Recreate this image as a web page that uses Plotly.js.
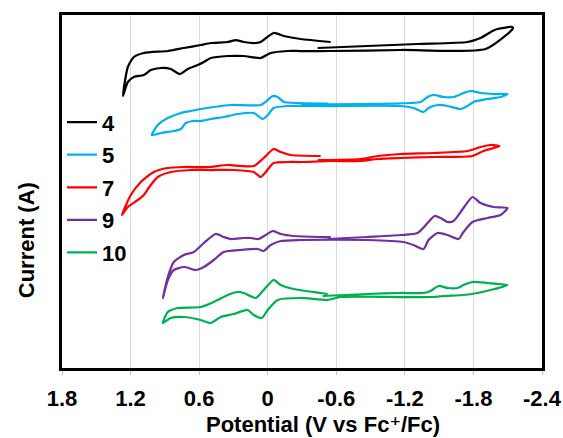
<!DOCTYPE html>
<html>
<head>
<meta charset="utf-8">
<script src="https://cdn.plot.ly/plotly-3.0.1.min.js"></script>
<style>html,body{margin:0;padding:0;background:#fff;}#chart{width:563px;height:438px;}</style>
</head>
<body>
<div id="chart"></div>
<script>
// Potential (V vs Fc+/Fc) and current (arbitrary units, offset per compound)
const names = ["4", "5", "7", "9", "10"];
const colors = ["#000000", "#00b0f0", "#ff0000", "#7030a0", "#00b050"];

const pot4 = [-0.437,-0.874,-1.311,-1.748,-1.862,-1.967,-2.010,-2.142,-2.142,-1.906,-1.163,-0.551,-0.288,-0.175,-0.026,0.061,0.210,0.350,0.498,0.559,0.612,0.699,0.769,0.848,0.935,1.023,1.084,1.171,1.224,1.267,1.224,1.171,1.084,0.874,0.734,0.586,0.498,0.350,0.280,0.210,0.105,0.061,-0.052,-0.140,-0.288,-0.551];
const cur4 = [32.1,32.3,32.5,32.7,33.1,33.8,34.0,34.2,34.0,32.0,31.9,31.8,31.8,31.8,31.6,31.1,31.3,31.3,31.1,30.7,30.4,30.0,29.5,30.0,30.1,29.9,29.4,29.2,28.7,27.3,30.2,31.2,31.6,31.8,32.1,32.4,32.6,32.7,32.9,32.7,32.6,32.7,33.6,33.3,33.0,32.7];

const pot5 = [-0.288,-0.813,-1.250,-1.337,-1.399,-1.451,-1.538,-1.626,-1.713,-1.774,-1.862,-1.976,-2.098,-2.037,-1.923,-1.801,-1.748,-1.687,-1.573,-1.486,-1.407,-1.364,-1.276,-1.163,-0.551,-0.175,-0.052,0.000,0.044,0.122,0.262,0.385,0.498,0.586,0.656,0.717,0.760,0.822,0.935,1.014,0.962,0.874,0.760,0.673,0.586,0.472,0.323,0.061,0.000,-0.044,-0.087,-0.140,-0.262,-0.524];
const cur5 = [26.45,26.5,26.6,26.7,27.2,27.4,27.2,27.2,27.6,27.8,27.6,27.5,27.5,27.2,27.0,26.7,26.3,26.0,26.3,26.4,26.1,25.7,26.1,26.3,26.3,26.3,26.1,25.4,25.0,25.6,25.5,25.2,25.0,24.8,24.8,24.6,24.0,23.8,23.6,23.4,24.4,25.1,25.6,25.8,26.0,26.2,26.4,26.4,26.9,27.3,27.2,26.7,26.6,26.55];

const pot7 = [-0.437,-0.813,-0.962,-1.163,-1.451,-1.748,-1.862,-1.949,-2.028,-1.888,-1.792,-1.451,-1.163,-0.962,-0.813,-0.551,-0.288,-0.175,-0.052,0.017,0.061,0.122,0.297,0.498,0.673,0.848,0.962,1.023,1.084,1.136,1.224,1.276,1.198,1.110,0.997,0.874,0.734,0.524,0.350,0.236,0.122,0.035,-0.052,-0.114,-0.201,-0.463];
const cur7 = [20.9,21.0,21.3,21.5,21.6,21.8,22.2,22.4,22.3,21.8,21.3,21.2,21.1,21.0,20.8,20.8,20.7,20.7,20.6,19.7,19.2,19.7,19.9,19.9,19.9,19.7,19.2,18.4,17.4,16.9,16.2,15.4,17.4,18.7,19.7,20.1,20.2,20.2,20.4,20.3,20.3,21.1,22.0,21.7,21.4,21.3];

const pot9 = [-0.524,-0.874,-1.163,-1.311,-1.399,-1.460,-1.512,-1.573,-1.626,-1.713,-1.792,-1.862,-1.976,-2.098,-2.037,-1.923,-1.792,-1.713,-1.670,-1.573,-1.486,-1.407,-1.364,-1.276,-1.189,-0.874,-0.288,-0.114,-0.026,0.035,0.087,0.236,0.385,0.472,0.559,0.629,0.734,0.822,0.874,0.918,0.874,0.822,0.734,0.647,0.559,0.455,0.385,0.323,0.210,0.149,0.079,0.017,-0.044,-0.114,-0.227,-0.463,-0.551];
const cur9 = [13.0,13.2,13.4,13.6,14.6,15.3,15.1,14.7,14.8,16.1,17.2,16.6,16.2,16.1,15.4,15.1,14.7,13.7,13.0,13.4,13.6,12.9,12.0,12.4,12.7,12.9,12.9,12.8,12.4,11.8,12.0,11.9,11.7,10.9,10.2,9.9,10.2,9.9,8.9,7.1,9.2,10.7,11.4,11.7,12.6,13.5,13.2,13.0,13.1,13.1,13.0,13.4,13.8,13.5,13.3,13.2,13.2];

const pot10 = [-0.481,-0.874,-1.163,-1.364,-1.425,-1.495,-1.573,-1.661,-1.713,-1.792,-1.923,-2.098,-1.949,-1.836,-1.713,-1.538,-1.451,-1.163,-0.638,-0.524,-0.288,-0.087,0.000,0.052,0.122,0.175,0.297,0.411,0.498,0.586,0.734,0.848,0.918,0.874,0.787,0.586,0.472,0.350,0.262,0.210,0.105,0.035,-0.052,-0.114,-0.227,-0.463,-0.524];
const cur10 = [7.3,7.5,7.6,7.6,7.8,8.3,8.1,8.1,8.4,8.7,8.6,8.4,7.9,7.6,7.4,7.3,7.2,7.2,7.2,6.9,7.1,6.9,5.9,5.1,5.4,5.9,5.5,5.2,4.6,4.9,5.2,5.1,4.6,5.7,6.1,6.2,6.7,7.4,7.7,7.6,7.1,7.9,8.9,8.4,8.0,7.6,7.5];

const tickVals = [1.8, 1.2, 0.6, 0, -0.6, -1.2, -1.8, -2.4];
const tickText = ["1.8", "1.2", "0.6", "0", "-0.6", "-1.2", "-1.8", "-2.4"];
const xTitle = "Potential (V vs Fc\u207A/Fc)";
const yTitle = "Current (A)";

const pots = [pot4, pot5, pot7, pot9, pot10];
const curs = [cur4, cur5, cur7, cur9, cur10];

const traces = names.map((n, i) => ({
  x: pots[i], y: curs[i], name: n, type: "scatter", mode: "lines",
  legendgroup: "g" + i,
  line: {color: colors[i], width: 2.25, shape: "spline", smoothing: 0.6}
}));

const font = {family: "Liberation Sans, Arial, DejaVu Sans, sans-serif", size: 22, color: "#000", weight: "bold"};

const layout = {
  width: 563, height: 438,
  margin: {l: 62, r: 21, t: 15, b: 70},
  paper_bgcolor: "#fff", plot_bgcolor: "#fff",
  font: font,
  showlegend: true,
  legend: {x: 0, xanchor: "left", y: 0.512, yanchor: "middle", font: font,
           bgcolor: "rgba(0,0,0,0)", tracegroupgap: 1},
  xaxis: {
    range: [1.8, -2.4], tickmode: "array", tickvals: tickVals, ticktext: tickText,
    showgrid: true, gridcolor: "#d9d9d9", gridwidth: 1, zeroline: false,
    showline: true, linecolor: "#000", linewidth: 3, mirror: true,
    ticks: "outside", ticklen: 4, tickcolor: "#bfbfbf", tickwidth: 1,
    ticklabelstandoff: 5,
    tickfont: font
  },
  yaxis: {
    range: [0.1, 35.4], showgrid: false, zeroline: false, showticklabels: false, ticks: "",
    showline: true, linecolor: "#000", linewidth: 3, mirror: true
  },
  annotations: [
    {text: xTitle, xref: "paper", yref: "paper", x: 0.544, y: -0.16,
     xanchor: "center", yanchor: "middle", showarrow: false, font: font},
    {text: yTitle, xref: "paper", yref: "paper", x: -0.075, y: 0.362, textangle: -90,
     xanchor: "center", yanchor: "middle", showarrow: false, font: font}
  ]
};

Plotly.newPlot("chart", traces, layout, {displayModeBar: false, staticPlot: true});
</script>
</body>
</html>
